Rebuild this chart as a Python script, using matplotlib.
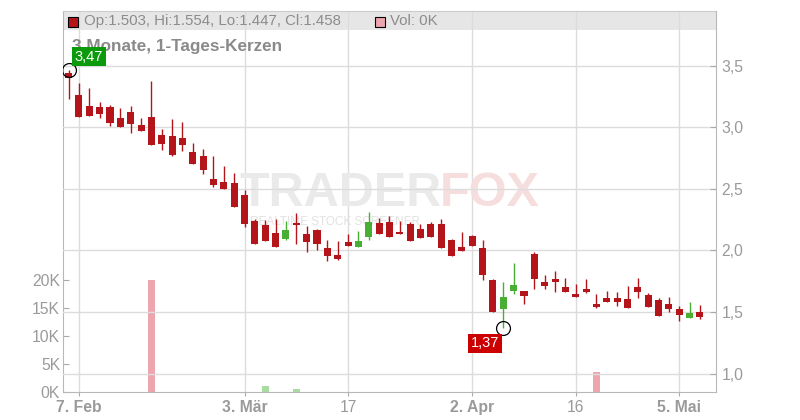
import matplotlib.pyplot as plt
from matplotlib.patches import Rectangle

# daily candles, Feb 6 .. May 7 (trading days, index 0..61)
opens = [3.445, 3.267, 3.175, 3.167, 3.167, 3.077, 3.126, 3.020, 3.085, 2.939,
         2.931, 2.915, 2.801, 2.768, 2.581, 2.557, 2.549, 2.451, 2.240, 2.207,
         2.142, 2.096, 2.224, 2.134, 2.164, 2.020, 1.963, 2.069, 2.031, 2.110,
         2.224, 2.232, 2.150, 2.215, 2.175, 2.215, 2.215, 2.085, 2.028, 2.118,
         2.020, 1.760, 1.527, 1.673, 1.671, 1.972, 1.744, 1.768, 1.703, 1.646,
         1.687, 1.565, 1.614, 1.614, 1.606, 1.703, 1.638, 1.598, 1.565, 1.524,
         1.451, 1.503]
highs = [3.470, 3.360, 3.320, 3.207, 3.183, 3.159, 3.175, 3.077, 3.378, 2.988,
         3.069, 3.045, 2.874, 2.825, 2.768, 2.687, 2.628, 2.492, 2.256, 2.250,
         2.256, 2.240, 2.305, 2.202, 2.178, 2.085, 2.080, 2.134, 2.159, 2.313,
         2.264, 2.280, 2.240, 2.233, 2.215, 2.233, 2.260, 2.093, 2.150, 2.126,
         2.085, 1.766, 1.744, 1.898, 1.671, 1.990, 1.801, 1.833, 1.776, 1.728,
         1.768, 1.646, 1.671, 1.663, 1.711, 1.776, 1.655, 1.614, 1.622, 1.549,
         1.581, 1.554]
lows = [3.230, 3.085, 3.090, 3.080, 3.015, 3.005, 2.958, 2.972, 2.858, 2.820,
        2.771, 2.811, 2.704, 2.624, 2.519, 2.500, 2.354, 2.193, 2.053, 2.078,
        2.029, 2.085, 2.055, 1.990, 2.006, 1.917, 1.925, 2.035, 2.029, 2.085,
        2.135, 2.110, 2.136, 2.078, 2.102, 2.110, 2.021, 1.956, 1.996, 2.035,
        1.763, 1.500, 1.367, 1.649, 1.568, 1.690, 1.690, 1.663, 1.661, 1.620,
        1.655, 1.533, 1.579, 1.549, 1.531, 1.614, 1.539, 1.465, 1.500, 1.427,
        1.449, 1.447]
closes = [3.400, 3.088, 3.096, 3.112, 3.039, 3.007, 3.031, 2.974, 2.860, 2.868,
          2.779, 2.860, 2.706, 2.657, 2.535, 2.502, 2.356, 2.218, 2.055, 2.080,
          2.031, 2.167, 2.207, 2.072, 2.055, 1.958, 1.933, 2.037, 2.077, 2.232,
          2.137, 2.112, 2.138, 2.080, 2.104, 2.112, 2.023, 1.958, 1.998, 2.037,
          1.803, 1.502, 1.622, 1.719, 1.633, 1.771, 1.714, 1.744, 1.663, 1.622,
          1.663, 1.541, 1.581, 1.581, 1.533, 1.663, 1.541, 1.467, 1.524, 1.478,
          1.492, 1.458]

# volume (thousands), only days with trades
vol_idx = [8, 19, 22, 51]
vol_k = [20.0, 1.1, 0.55, 3.6]
vol_up = [False, True, True, False]

xtick_idx = [1, 17, 27, 39, 49, 59]
xtick_labels = ["7. Feb", "3. Mär", "17", "2. Apr", "16", "5. Mai"]
xtick_bold = [True, True, False, True, False, True]
price_ticks = [1.0, 1.5, 2.0, 2.5, 3.0, 3.5]
vol_ticks = [0, 5, 10, 15, 20]

RED = "#b4151a"
GREEN = "#48ae34"
GRID = "#dcdcdc"
TXT = "#9a9a9a"
FONT = "Liberation Sans"

plt.rcParams["font.family"] = [FONT, "DejaVu Sans"]

W, H = 800, 420
def fx(x):
    return x / W
def fy(y):
    return 1 - y / H

L, R, T, B = 63, 716, 11, 392
fig = plt.figure(figsize=(8, 4.2), dpi=100)
ax = fig.add_axes([fx(L), fy(B), (R - L) / W, (B - T) / H])
ax2 = ax.twinx()

n = len(opens)
ax.set_xlim(-0.54, 62.55)
ax.set_ylim(0, (B - T) / 5.6)
ax2.set_ylim(1.0 - (B - 373.5) / 123.0, 3.5 + (66 - T) / 123.0)

# header band
ax.add_patch(Rectangle((0, (B - 30) / (B - T)), 1, 1 - (B - 30) / (B - T),
                       transform=ax.transAxes, fc="#e6e6e6", ec="none", zorder=0))

ax.set_axisbelow(True)
ax.grid(axis="x", color=GRID, lw=1)
ax2.grid(axis="y", color=GRID, lw=1)
ax2.set_axisbelow(True)

# watermark
ax.text(fx(240), fy(194), "TRADER", transform=fig.transFigure, fontsize=35,
        weight="bold", color="#eaeaea", va="center", zorder=0.6)
ax.text(fx(440), fy(194), "FOX", transform=fig.transFigure, fontsize=35,
        weight="bold", color="#f7dede", va="center", zorder=0.6)
ax.text(fx(250), fy(222), "REALTIME STOCK SCREENER", transform=fig.transFigure,
        fontsize=8.5, color="#e2e2e2", va="center", zorder=0.6)

# volume bars
ax.bar(vol_idx, vol_k, width=0.68,
       color=["#a8dca0" if u else "#eea6ae" for u in vol_up], zorder=1)

# candles
cols = [GREEN if c > o else RED for o, c in zip(opens, closes)]
idx = list(range(n))
ax2.vlines(idx, lows, highs, colors=cols, lw=1.0, zorder=3)
bottoms = [min(o, c) for o, c in zip(opens, closes)]
heights = [max(abs(c - o), 0.012) for o, c in zip(opens, closes)]
ax2.bar(idx, heights, bottom=bottoms, width=0.68, color=cols, lw=0, zorder=4)

# high / low markers
i_hi = highs.index(max(highs))
i_lo = lows.index(min(lows))
ax2.plot(i_hi, highs[i_hi], "o", mfc="none", mec="black", ms=10, mew=0.9, zorder=6)
ax2.plot(i_lo, lows[i_lo], "o", mfc="none", mec="black", ms=10, mew=0.9, zorder=6)
ax2.annotate(f"{highs[i_hi]:.2f}".replace(".", ","), (i_hi, highs[i_hi]),
             xytext=(6, 6), textcoords="offset pixels", ha="left", va="bottom",
             color="white", fontsize=10.5, zorder=8,
             bbox=dict(boxstyle="square,pad=0.18", fc="#0b9a0b", ec="none"))
ax2.annotate(f"{lows[i_lo]:.2f}".replace(".", ","), (i_lo, lows[i_lo]),
             xytext=(-4, -8), textcoords="offset pixels", ha="right", va="top",
             color="white", fontsize=10.5, zorder=8,
             bbox=dict(boxstyle="square,pad=0.18", fc="#cc0000", ec="none"))

# title and legend line
ax2.text(fx(72), fy(47), "3 Monate, 1-Tages-Kerzen", transform=fig.transFigure,
         fontsize=12.3, weight="bold", color="#8a8a8a", va="center", zorder=5)
ax2.add_artist(Rectangle((fx(68), fy(27)), 10 / W, 10 / H, transform=fig.transFigure,
                         fc=RED, ec="black", lw=0.8, zorder=7, clip_on=False))
ax2.text(fx(84), fy(21), f"Op:{opens[-1]:.3f}, Hi:{highs[-1]:.3f}, "
         f"Lo:{lows[-1]:.3f}, Cl:{closes[-1]:.3f}", transform=fig.transFigure,
         fontsize=10.8, color="#8c8c8c", va="center", zorder=7)
ax2.add_artist(Rectangle((fx(375), fy(27)), 10 / W, 10 / H, transform=fig.transFigure,
                         fc="#eea6ae", ec="black", lw=0.8, zorder=7, clip_on=False))
ax2.text(fx(390), fy(21), "Vol: 0K", transform=fig.transFigure,
         fontsize=10.8, color="#8c8c8c", va="center", zorder=7)

# axes styling
for s in ["left", "bottom", "top"]:
    ax.spines[s].set_color("#b8b8b8")
ax.spines["right"].set_visible(False)
for s in ["left", "bottom", "top"]:
    ax2.spines[s].set_visible(False)
ax2.spines["right"].set_color("#b8b8b8")
ax.spines["top"].set_color("#cccccc")

ax.set_yticks(vol_ticks)
ax.set_yticklabels([f"{v}K" for v in vol_ticks])
ax.tick_params(axis="y", direction="in", length=4, color="#aaaaaa",
               labelcolor=TXT, labelsize=11.3, pad=2)
ax2.set_yticks(price_ticks)
ax2.set_yticklabels([f"{p:.1f}".replace(".", ",") for p in price_ticks])
ax2.tick_params(axis="y", direction="in", length=4, color="#aaaaaa",
                labelcolor=TXT, labelsize=11.3, pad=4)
ax.set_xticks(xtick_idx)
ax.set_xticklabels(xtick_labels)
ax.tick_params(axis="x", direction="out", length=3, color="#aaaaaa",
               labelcolor=TXT, labelsize=11.3, pad=3)
for lab, b in zip(ax.get_xticklabels(), xtick_bold):
    if b:
        lab.set_fontweight("bold")

fig.savefig("out.png", dpi=100)
